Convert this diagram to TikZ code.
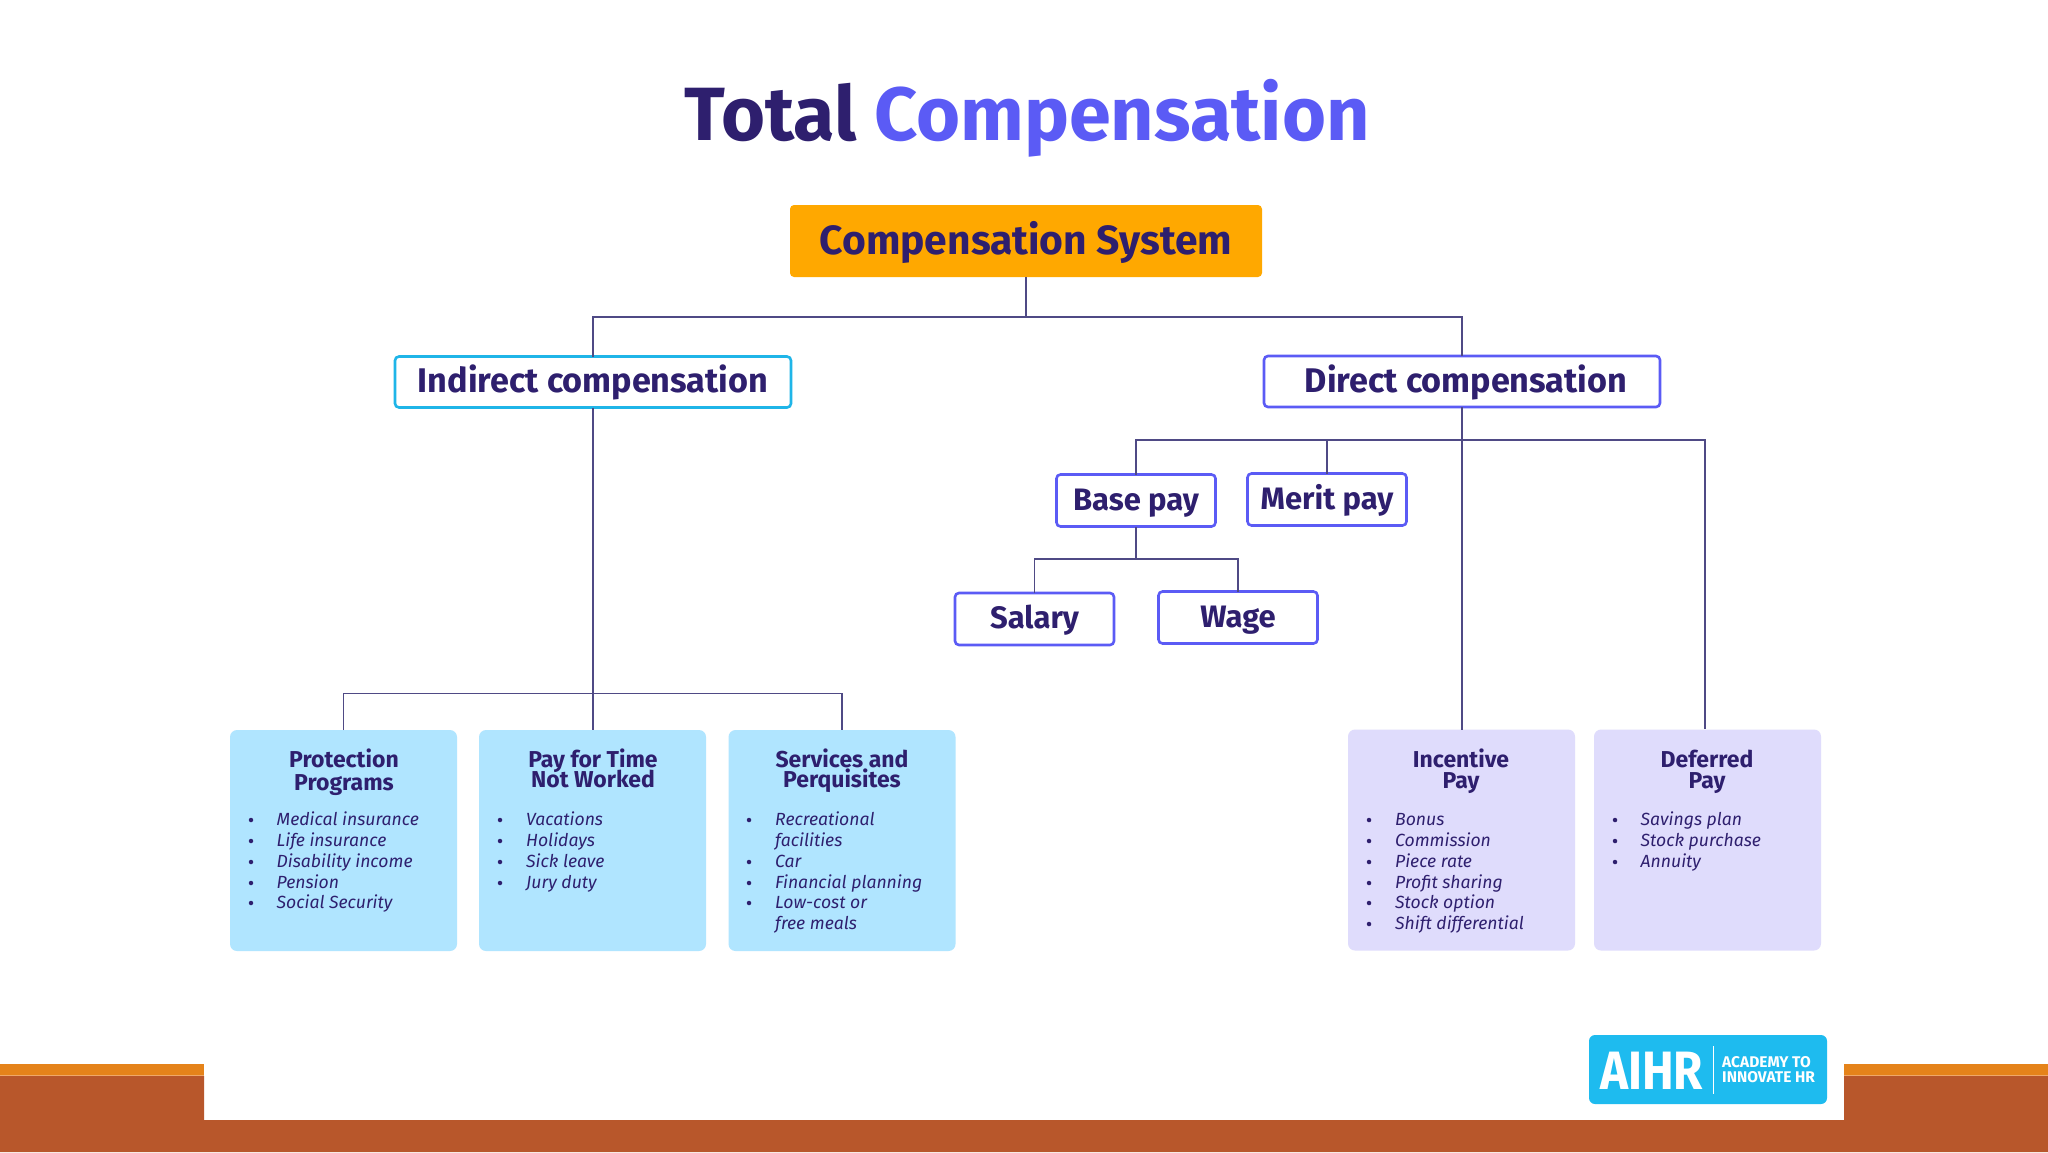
\documentclass[tikz,border=0pt]{standalone}
\usepackage{fontspec}
\setmainfont{Fira Sans}
\definecolor{inkdark}{HTML}{2E1F6E}
\definecolor{violet}{HTML}{5B5BF5}
\definecolor{skyfill}{HTML}{B0E5FF}
\definecolor{lilacfill}{HTML}{DFDCFC}
\definecolor{cyanline}{HTML}{1FB5E8}
\definecolor{amber}{HTML}{FFA800}
\definecolor{linkcol}{HTML}{4F4A85}
\definecolor{brown}{HTML}{B8572B}
\definecolor{bandor}{HTML}{E5831A}
\definecolor{bandedge}{HTML}{F0A868}
\definecolor{logoblue}{HTML}{1EBBEF}
\tikzset{
  box/.style={rounded corners=4pt,inner sep=0pt,outer sep=0pt,text=inkdark},
  outlined/.style={box,draw=violet,line width=2.6pt,fill=white,minimum width=159pt,minimum height=52pt,text height=26pt,text depth=6.5pt,font=\fontsize{31}{35}\selectfont\bfseries},
  wideblue/.style={box,draw=cyanline,line width=2.6pt,fill=white,minimum width=396pt,minimum height=51pt,text height=28pt,text depth=7pt,font=\fontsize{34.2}{38}\selectfont\bfseries},
  card/.style={rounded corners=7pt,inner sep=0pt,outer sep=0pt,minimum width=227pt,minimum height=221pt},
  head/.style={inner sep=0pt,anchor=base,yshift=-7pt,text=inkdark,font=\fontsize{23}{25}\selectfont\bfseries},
  item/.style={inner sep=0pt,anchor=base west,yshift=-5.5pt,text=inkdark,font=\fontsize{17.6}{21}\selectfont\itshape},
  dot/.style={circle,fill=inkdark,inner sep=0pt,minimum size=4.5pt},
  link/.style={draw=linkcol,line width=1.7pt},
  logotxt/.style={inner sep=0pt,anchor=base west,text=white,font=\fontsize{15.5}{17}\selectfont\bfseries}
}
\newcommand{\itemlist}[4]{% bullet x, text x, prefix, list of y/bullet/text
  \foreach \yy/\bb/\tt [count=\cc] in {#4} {
    \node[item] (#3t\cc) at (#2,\yy) {\tt};
    \ifnum\bb=1 \node[dot] (#3b\cc) at (#1,\yy) {}; \fi
  }
}
\begin{document}
\begin{tikzpicture}[x=1pt,y=-1pt]
\useasboundingbox (0,0) rectangle (2048,1152);
\fill[white] (0,0) rectangle (2048,1152);
% footer band
\fill[bandor] (0,1064) rectangle (204,1075);
\fill[bandor] (1844,1064) rectangle (2048,1075);
\fill[bandedge] (0,1075) rectangle (204,1076);
\fill[bandedge] (1844,1075) rectangle (2048,1076);
\fill[brown] (0,1076) -- (204,1076) -- (204,1120) -- (1844,1120) -- (1844,1076) -- (2048,1076) -- (2048,1152) -- (0,1152) -- cycle;
% title
\node[inner sep=0pt,anchor=base,font=\fontsize{75.5}{80}\selectfont\bfseries] (title) at (1027,140) {\textcolor{inkdark}{Total} \textcolor{violet}{Compensation}};
% main boxes
\node[box,fill=amber,minimum width=472pt,minimum height=72pt,text height=35pt,text depth=8pt,font=\fontsize{40.8}{44}\selectfont\bfseries] (sys) at (1026,241) {Compensation System};
\node[wideblue] (ind) at (593,382) {Indirect compensation};
\node[wideblue,draw=violet] (dir) at (1462,381.5) {\hspace*{8pt}Direct compensation};
\node[outlined] (base) at (1136,500.5) {Base pay};
\node[outlined] (merit) at (1327,499.5) {Merit pay};
\node[outlined] (salary) at (1034.5,619) {Salary};
\node[outlined] (wage) at (1238,617.5) {Wage};
% cards
\node[card,fill=skyfill] (prot) at (343.5,840.5) {};
\node[card,fill=skyfill] (time) at (592.5,840.5) {};
\node[card,fill=skyfill] (serv) at (842,840.5) {};
\node[card,fill=lilacfill] (inc) at (1461.5,840) {};
\node[card,fill=lilacfill] (def) at (1707.5,840) {};
% card headings
\node[head] (h1a) at (344,760) {Protection};
\node[head] (h1b) at (344,783) {Programs};
\node[head] (h2a) at (593,760) {Pay for Time};
\node[head] (h2b) at (593,780) {Not Worked};
\node[head] (h3a) at (842,760) {Services and};
\node[head] (h3b) at (842,780) {Perquisites};
\node[head] (h4a) at (1461,760) {Incentive};
\node[head] (h4b) at (1461,781) {Pay};
\node[head] (h5a) at (1707,760) {Deferred};
\node[head] (h5b) at (1707,781) {Pay};
% lists
\itemlist{251}{276.5}{pa}{820/1/Medical insurance,841/1/Life insurance,862/1/Disability income,883/1/Pension,903/1/Social Security}
\itemlist{500}{526}{pb}{820/1/Vacations,841/1/Holidays,862/1/Sick leave,883/1/Jury duty}
\itemlist{749}{775}{pc}{820/1/Recreational,841/0/facilities,862/1/Car,883/1/Financial planning,903/1/Low-cost or,924/0/free meals}
\itemlist{1369}{1395}{pd}{820/1/Bonus,841/1/Commission,862/1/Piece rate,883/1/Profit sharing,903/1/Stock option,924/1/Shift differential}
\itemlist{1615}{1640.5}{pe}{820/1/Savings plan,841/1/Stock purchase,862/1/Annuity}
% bus coordinates
\coordinate (bustop) at (sys.south |- 0,317);
\coordinate (busind) at (ind.south |- 0,693.5);
\coordinate (busdir) at (dir.south |- 0,440);
\coordinate (busbase) at (base.south |- 0,559);
% connectors
\draw[link] (sys.south) -- (bustop);
\draw[link] (ind.north) |- (bustop) -| (dir.north);
\draw[link] (ind.south) -- (time.north -| ind.south);
\draw[link] (prot.north) |- (busind) -| (serv.north);
\draw[link] (dir.south) -- (inc.north -| dir.south);
\draw[link] (base.north) |- (busdir);
\draw[link] (merit.north) -- (merit.north |- busdir);
\coordinate (defend) at (1705,729);
\draw[link] (busdir) -| (defend);
\draw[link] (base.south) -- (busbase);
\draw[link] (salary.north) |- (busbase) -| (wage.north);
% logo
\node[rounded corners=6pt,fill=logoblue,minimum width=238pt,minimum height=69pt,inner sep=0pt] (logo) at (1708,1069.5) {};
\node[inner sep=0pt,anchor=base west,xscale=0.88,text=white,font=\fontsize{54}{56}\selectfont\bfseries] (aihr) at (1600,1089) {AIHR};
\coordinate (lsa) at (1713.6,1046);
\coordinate (lsb) at (1713.6,1094);
\draw[white,line width=1.6pt] (lsa) -- (lsb);
\node[logotxt] (ta) at (1722,1067) {ACADEMY TO};
\node[logotxt] (tb) at (1722,1082) {INNOVATE HR};
\end{tikzpicture}
\end{document}
